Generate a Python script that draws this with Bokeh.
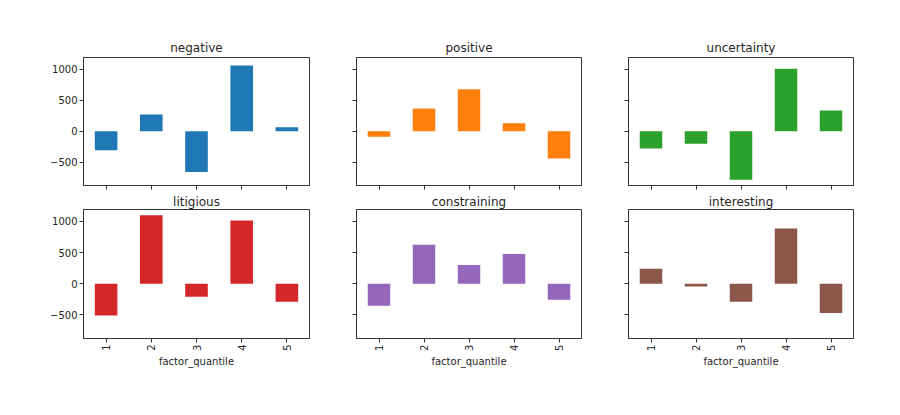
import math
from bokeh.plotting import figure
from bokeh.layouts import column, row
from bokeh.models import FixedTicker, Range1d, FactorRange
from bokeh.embed import file_html
from bokeh.resources import INLINE

quantiles = ["1", "2", "3", "4", "5"]
negative = [-306, 268, -659, 1061, 64]
positive = [-91, 365, 675, 129, -440]
uncertainty = [-279, -204, -783, 1008, 332]
litigious = [-510, 1095, -209, 1014, -290]
constraining = [-354, 623, 301, 478, -258]
interesting = [241, -43, -290, 885, -467]
y_ticks = [-500, 0, 500, 1000]

names = ["negative", "positive", "uncertainty", "litigious", "constraining", "interesting"]
series = [negative, positive, uncertainty, litigious, constraining, interesting]
colors = ["#1f77b4", "#ff7f0e", "#2ca02c", "#d62728", "#9467bd", "#8c564b"]

all_vals = [v for s in series for v in s] + [0]
lo, hi = min(all_vals), max(all_vals)
pad = 0.05 * (hi - lo)

FONT = "DejaVu Sans"
TXT = "#262626"
EDGE = "#333333"

figs = []
for i, (name, vals, col) in enumerate(zip(names, series, colors)):
    r, c = divmod(i, 3)
    p = figure(
        x_range=FactorRange(*quantiles),
        y_range=Range1d(lo - pad, hi + pad),
        frame_width=226 if c == 0 else 225,
        frame_height=128 if r == 0 else 129,
        min_border_left=83 if c == 0 else 45,
        min_border_right=2 if c < 2 else 20,
        min_border_top=57 if r == 0 else 13,
        min_border_bottom=6 if r == 0 else 42,
        title=name,
        toolbar_location=None,
        output_backend="svg",
        background_fill_color="white",
        border_fill_color="white",
    )
    p.vbar(x=quantiles, top=vals, bottom=0, width=0.5, fill_color=col, line_color=None)
    p.title.align = "center"
    p.title.text_font = FONT
    p.title.text_font_size = "12px"
    p.title.text_font_style = "normal"
    p.title.text_color = TXT
    p.title.standoff = 5 if r == 0 else 2
    p.xgrid.visible = False
    p.ygrid.visible = False
    p.outline_line_color = EDGE
    p.outline_line_width = 1
    for ax in (p.xaxis[0], p.yaxis[0]):
        ax.axis_line_color = EDGE
        ax.major_tick_line_color = EDGE
        ax.major_tick_out = 4
        ax.major_tick_in = 0
        ax.minor_tick_line_color = None
        ax.major_label_text_font = FONT
        ax.major_label_text_font_size = "10px"
        ax.major_label_text_color = TXT
        ax.major_label_standoff = 2
    p.yaxis[0].ticker = FixedTicker(ticks=y_ticks)
    if c > 0:
        p.yaxis[0].major_label_text_color = None
    else:
        p.yaxis[0].major_label_overrides = {-500: "\u2212500"}
    if r == 0:
        p.xaxis[0].major_label_text_color = None
    else:
        p.xaxis[0].major_label_orientation = math.pi / 2
        p.xaxis[0].axis_label = "factor_quantile"
        p.xaxis[0].axis_label_text_font = FONT
        p.xaxis[0].axis_label_text_font_size = "10px"
        p.xaxis[0].axis_label_text_font_style = "normal"
        p.xaxis[0].axis_label_text_color = TXT
        p.xaxis[0].axis_label_standoff = 2
    figs.append(p)

layout = column(row(*figs[:3]), row(*figs[3:]))
open("out.html", "w").write(file_html(layout, INLINE))
